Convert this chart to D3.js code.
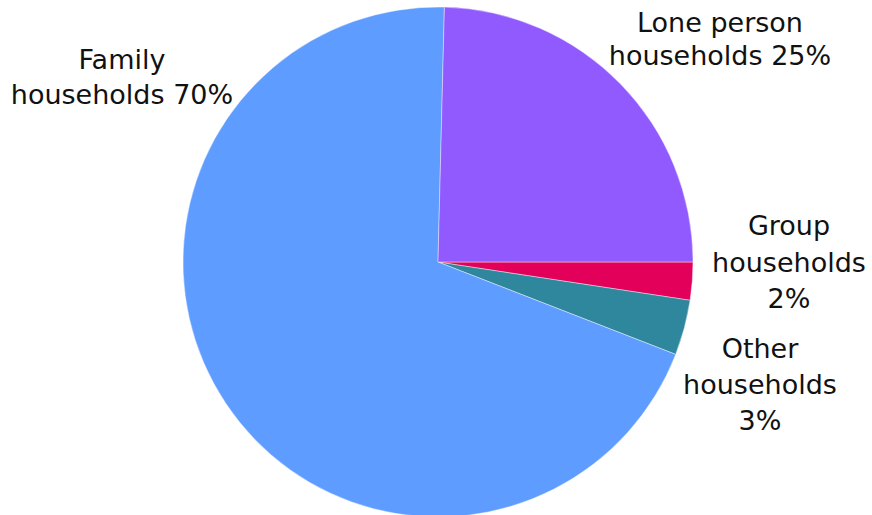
<!DOCTYPE html>
<html>
<head>
<meta charset="utf-8">
<script src="https://cdn.jsdelivr.net/npm/d3@7"></script>
<style>
  html, body { margin: 0; padding: 0; background: #fff; }
  svg { display: block; }
</style>
</head>
<body>
<svg id="chart" width="872" height="515"></svg>
<script>
// Data (drawn clockwise starting at 3 o'clock)
const categories = ["Group households", "Other households", "Family households", "Lone person households"];
const values = [2.4, 3.5, 69.5, 24.6];
const labelLines = [
  ["Group", "households", "2%"],
  ["Other", "households", "3%"],
  ["Family", "households 70%"],
  ["Lone person", "households 25%"]
];
const colors = ["#E3005B", "#2F879D", "#5E9CFF", "#915AFF"];

// Layout
const W = 872, H = 515;
const cx = 438, cy = 262, R = 255;
const labelAnchor = [
  { x: 789, y: 235, lh: 36.5 },
  { x: 760, y: 358, lh: 36 },
  { x: 122, y: 69, lh: 35 },
  { x: 720, y: 32, lh: 33 }
];

const svg = d3.select("#chart");
const g = svg.append("g").attr("transform", `translate(${cx},${cy})`);

const pie = d3.pie().sort(null).value(d => d)
  .startAngle(Math.PI / 2).endAngle(Math.PI / 2 + 2 * Math.PI);
const arc = d3.arc().innerRadius(0).outerRadius(R);

g.selectAll("path")
  .data(pie(values))
  .join("path")
  .attr("d", arc)
  .attr("fill", (d, i) => colors[i])
  .attr("stroke", "#ffffff")
  .attr("stroke-opacity", 0.5)
  .attr("stroke-width", 0.8);

const labels = svg.append("g")
  .attr("font-family", "'DejaVu Sans', sans-serif")
  .attr("font-size", 27)
  .attr("fill", "#111");

labelLines.forEach((lines, i) => {
  const a = labelAnchor[i];
  const t = labels.append("text").attr("text-anchor", "middle");
  lines.forEach((ln, j) => {
    t.append("tspan").attr("x", a.x).attr("y", a.y + j * a.lh).text(ln);
  });
});
</script>
</body>
</html>
